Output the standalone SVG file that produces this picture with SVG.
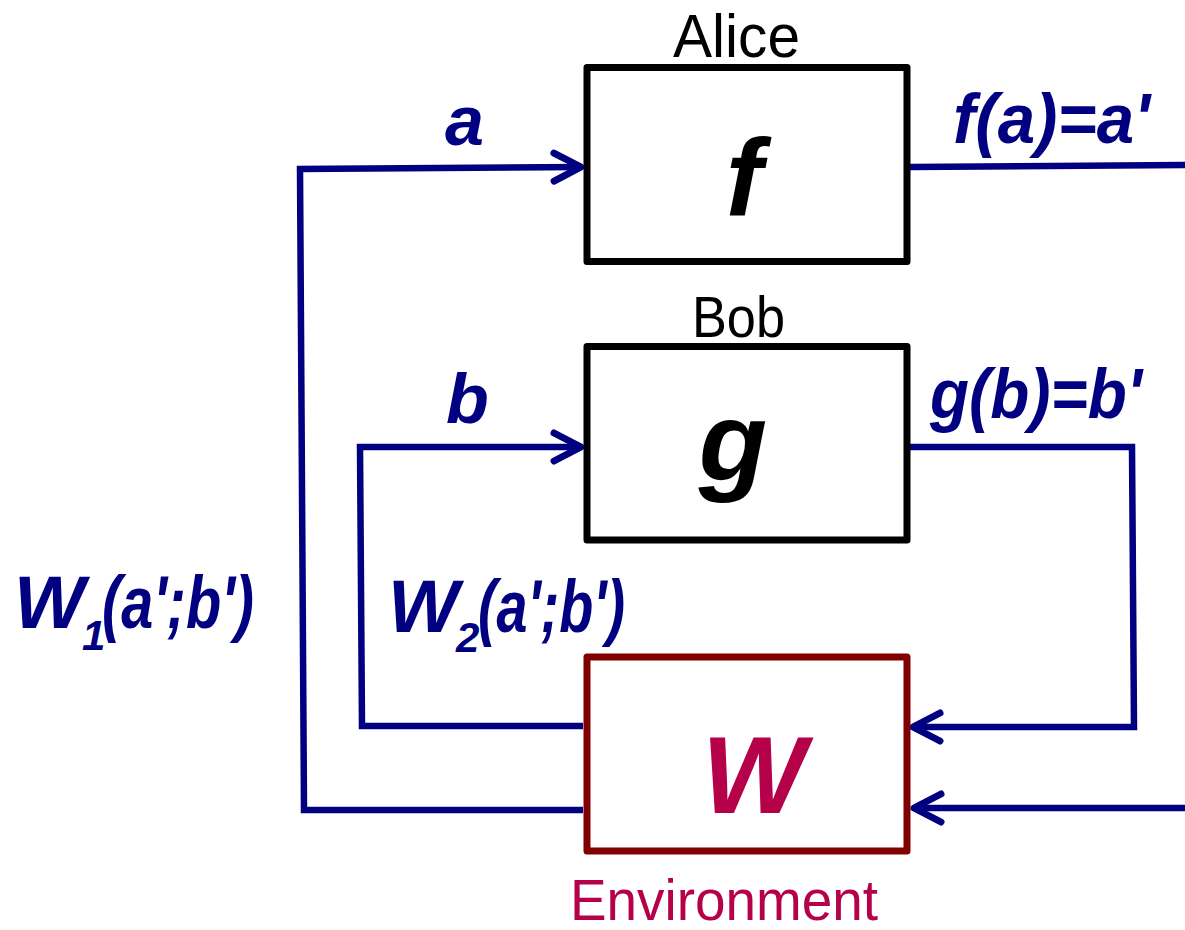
<svg xmlns="http://www.w3.org/2000/svg" width="1185" height="930" viewBox="0 0 1185 930">
<style>
.box{fill:#fff;stroke:#000;stroke-width:7;stroke-linejoin:round}
.env{fill:#fff;stroke:#800000;stroke-width:7;stroke-linejoin:round}
.wire{fill:none;stroke:#000080;stroke-width:6.5;stroke-linejoin:miter}
.lbl{font-family:"Liberation Sans",Arial,sans-serif;font-style:italic;font-weight:bold;fill:#000080}
.name{font-family:"Liberation Sans",Arial,sans-serif;fill:#000}
.big{font-family:"Liberation Sans",Arial,sans-serif;font-style:italic;font-weight:bold;fill:#000}
</style>
<defs>
<marker id="arr" viewBox="-34 -20 40 40" refX="0" refY="0" markerWidth="40" markerHeight="40" markerUnits="userSpaceOnUse" orient="auto" overflow="visible">
<path d="M-27,-14 L0,0 L-27,14" fill="none" stroke="#000080" stroke-width="7" stroke-linecap="round" stroke-linejoin="round"/>
</marker>
</defs>
<rect width="1185" height="930" fill="#fff"/>
<g id="connectors">
<path class="wire" d="M583,810 L304,810 L300,169 L581,167" marker-end="url(#arr)"/>
<path class="wire" d="M583,726 L362,726 L360,447 L581,447" marker-end="url(#arr)"/>
<path class="wire" d="M910,167 L1185,165"/>
<path class="wire" d="M910,447 L1132,447 L1134,727 L913,727" marker-end="url(#arr)"/>
<path class="wire" d="M1185,808 L914,808" marker-end="url(#arr)"/>
</g>
<g id="alice">
<rect class="box" x="587" y="67.5" width="320" height="194"/>
<text class="name" x="673" y="57" font-size="61" textLength="127" lengthAdjust="spacingAndGlyphs">Alice</text>
<text class="big" x="744" y="215" font-size="110" text-anchor="middle">f</text>
</g>
<g id="bob">
<rect class="box" x="587" y="346.5" width="320" height="193.5"/>
<text class="name" x="692" y="337" font-size="58" textLength="93" lengthAdjust="spacingAndGlyphs">Bob</text>
<text class="big" x="733" y="480" font-size="112" text-anchor="middle">g</text>
</g>
<g id="environment">
<rect class="env" x="587" y="657" width="320" height="194"/>
<text x="754" y="813" font-size="110" text-anchor="middle" font-family="Liberation Sans, Arial, sans-serif" font-style="italic" font-weight="bold" fill="#b5004a">W</text>
<text x="570" y="920" font-size="58" textLength="308" lengthAdjust="spacingAndGlyphs" font-family="Liberation Sans, Arial, sans-serif" fill="#b5004a">Environment</text>
</g>
<g id="labels">
<text class="lbl" x="445" y="145" font-size="70">a</text>
<text class="lbl" x="446" y="423" font-size="70">b</text>
<text class="lbl" x="953" y="143" font-size="70" textLength="197" lengthAdjust="spacingAndGlyphs">f(a)=a'</text>
<text class="lbl" x="930" y="418" font-size="70" textLength="212" lengthAdjust="spacingAndGlyphs">g(b)=b'</text>
<text class="lbl" x="14" y="628" font-size="75">W</text>
<text class="lbl" x="82" y="650" font-size="42">1</text>
<text class="lbl" x="102" y="628" font-size="75" textLength="152" lengthAdjust="spacingAndGlyphs">(a';b')</text>
<text class="lbl" x="388" y="632" font-size="75">W</text>
<text class="lbl" x="456" y="652" font-size="42">2</text>
<text class="lbl" x="478" y="632" font-size="75" textLength="147" lengthAdjust="spacingAndGlyphs">(a';b')</text>
</g>
</svg>
